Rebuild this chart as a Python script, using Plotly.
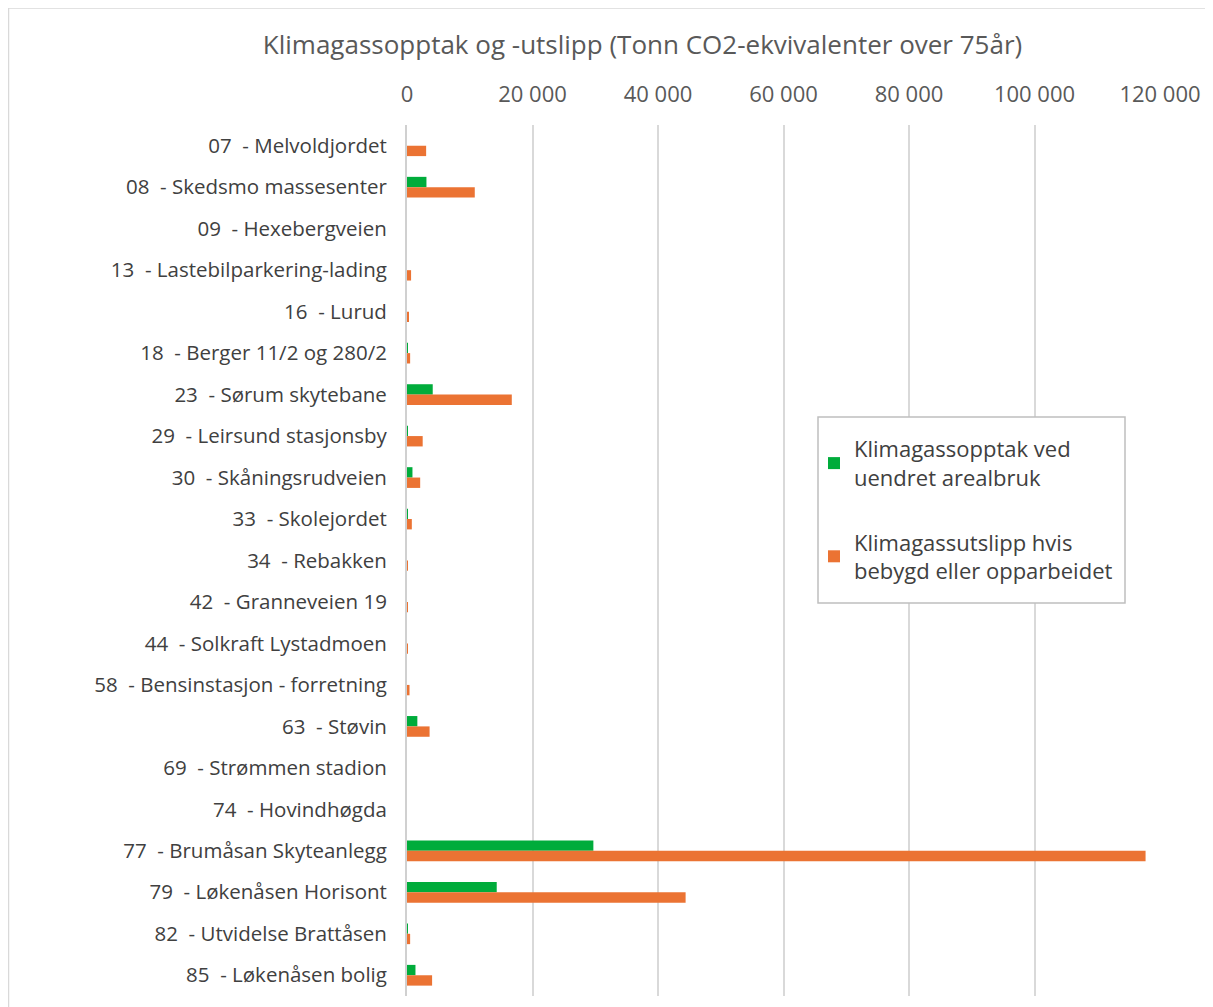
import plotly.graph_objects as go

NB = "\u00a0"
categories = [
    "07  - Melvoldjordet",
    "08  - Skedsmo massesenter",
    "09  - Hexebergveien",
    "13  - Lastebilparkering-lading",
    "16  - Lurud",
    "18  - Berger 11/2 og 280/2",
    "23  - Sørum skytebane",
    "29  - Leirsund stasjonsby",
    "30  - Skåningsrudveien",
    "33  - Skolejordet",
    "34  - Rebakken",
    "42  - Granneveien 19",
    "44  - Solkraft Lystadmoen",
    "58  - Bensinstasjon - forretning",
    "63  - Støvin",
    "69  - Strømmen stadion",
    "74  - Hovindhøgda",
    "77  - Brumåsan Skyteanlegg",
    "79  - Løkenåsen Horisont",
    "82  - Utvidelse Brattåsen",
    "85  - Løkenåsen bolig",
]
opptak = [0, 3100, 0, 0, 0, 100, 4100, 120, 870, 60, 0, 0, 0, 0, 1650, 0, 0, 29700, 14300, 100, 1350]
utslipp = [3050, 10800, 0, 650, 200, 500, 16700, 2500, 2100, 770, 130, 150, 50, 400, 3600, 0, 0, 117700, 44400, 500, 4000]

tick_vals = [0, 20000, 40000, 60000, 80000, 100000, 120000]
tick_text = ["0", "20 000", "40 000", "60 000", "80 000", "100 000", "120 000"]

labels = [c.replace(" ", NB) for c in categories]

W, H = 1205, 999
L, R, T, B = 399, 53, 117, 11
PW, PH = W - L - R, H - T - B


def px(fx):
    return (fx - L) / PW


def py(fy):
    return 1 - (fy - T) / PH


fig = go.Figure()
fig.add_trace(go.Bar(
    y=labels, x=opptak, orientation="h",
    name="Klimagassopptak ved<br>uendret arealbruk",
    legendgroup="a",
    marker=dict(color="#00AC3B", line=dict(width=0)),
))
fig.add_trace(go.Bar(
    y=labels, x=utslipp, orientation="h",
    name="Klimagassutslipp hvis<br>bebygd eller opparbeidet",
    legendgroup="b",
    marker=dict(color="#EB7333", line=dict(width=0)),
))

fig.update_layout(
    width=W, height=H,
    paper_bgcolor="white", plot_bgcolor="white",
    font=dict(family="Open Sans", color="#595959"),
    title=dict(
        text="Klimagassopptak og -utslipp (Tonn CO2-ekvivalenter over 75år)",
        x=634.5 / W, xanchor="center", y=1 - 37 / H, yanchor="middle",
        font=dict(size=26, color="#595959"),
    ),
    margin=dict(l=L, r=R, t=T, b=B, autoexpand=False),
    barmode="group", bargap=0.5, bargroupgap=0,
    legend=dict(
        x=px(806), xanchor="left", y=py(420), yanchor="top",
        bgcolor="rgba(0,0,0,0)", borderwidth=0,
        font=dict(size=22, color="#404040"),
        traceorder="grouped", tracegroupgap=33, itemwidth=30,
    ),
    showlegend=True,
    xaxis=dict(
        side="top", range=[0, 120000], automargin=False,
        tickvals=tick_vals, ticktext=tick_text,
        showgrid=True, gridcolor="#D9D9D9", gridwidth=1.5,
        zeroline=False, ticks="", ticklabelstandoff=18,
        tickfont=dict(size=22, color="#595959"),
    ),
    yaxis=dict(
        autorange="reversed", showgrid=False, automargin=False,
        showline=True, linecolor="#D0D0D0", linewidth=2,
        ticks="", ticklabelstandoff=14,
        tickfont=dict(size=20.5, color="#404040"),
    ),
    shapes=[
        dict(
            type="rect", xref="paper", yref="paper",
            x0=px(0.5), x1=px(1203), y0=py(H + 20), y1=py(0),
            line=dict(color="#D9D9D9", width=1.5), fillcolor="rgba(0,0,0,0)",
            layer="below",
        ),
        dict(
            type="rect", xref="paper", yref="paper",
            x0=px(810), x1=px(1117), y0=py(595), y1=py(409),
            line=dict(color="#BFBFBF", width=1.5), fillcolor="white",
            layer="above",
        ),
    ],
)

fig.write_html("out.html")
